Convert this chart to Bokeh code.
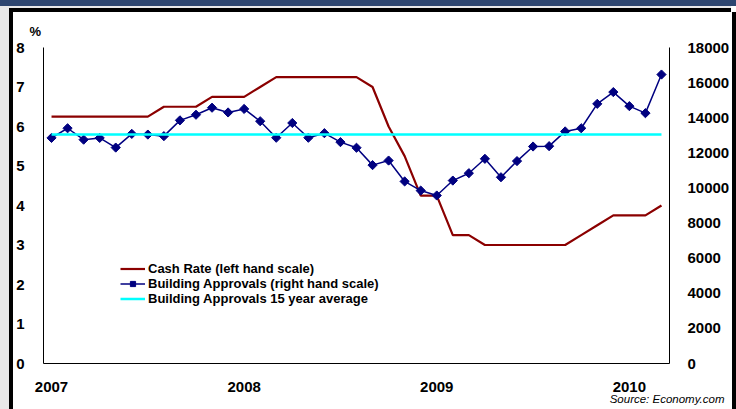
import math
from bokeh.plotting import figure
from bokeh.layouts import row, column
from bokeh.models import (LinearAxis, Range1d, Legend, LegendItem, Title, Div,
                          FixedTicker, ColumnDataSource)
from bokeh.embed import file_html
from bokeh.resources import INLINE

# ---- data -------------------------------------------------------------
months = [f"{m}-{y}" for y in ("07", "08", "09", "10")
          for m in ("Jan", "Feb", "Mar", "Apr", "May", "Jun", "Jul", "Aug",
                    "Sep", "Oct", "Nov", "Dec")][:39]
cash_rate = [6.25, 6.25, 6.25, 6.25, 6.25, 6.25, 6.25, 6.5, 6.5, 6.5,
             6.75, 6.75, 6.75, 7.0, 7.25, 7.25, 7.25, 7.25, 7.25, 7.25,
             7.0, 6.0, 5.25, 4.25, 4.25, 3.25, 3.25, 3.0, 3.0, 3.0,
             3.0, 3.0, 3.0, 3.25, 3.5, 3.75, 3.75, 3.75, 4.0]
approvals = [12850, 13400, 12750, 12850, 12300, 13080, 13040, 12950, 13850, 14170,
             14570, 14300, 14500, 13800, 12860, 13700, 12860, 13120, 12610, 12290,
             11300, 11560, 10370, 9850, 9570, 10420, 10840, 11660, 10610, 11530,
             12360, 12380, 13220, 13400, 14790, 15460, 14660, 14260, 16460]
avg_15yr = 13050
year_labels = ["2007", "2008", "2009", "2010"]
year_positions = [months.index(f"Jan-{y[2:]}") for y in year_labels]
left_ticks = [0, 1, 2, 3, 4, 5, 6, 7, 8]
right_ticks = [0, 2000, 4000, 6000, 8000, 10000, 12000, 14000, 16000, 18000]

idx = list(range(len(months)))
src = ColumnDataSource(dict(x=idx, month=months, cash=cash_rate,
                            bld=approvals, avg=[avg_15yr] * len(months)))

FONT = "Liberation Sans"
GRAY, NAVY, BLACK = "#e8e8e8", "#2e4670", "#000000"

p = figure(width=714, height=397, frame_width=626, frame_height=316,
           min_border_left=30, min_border_right=58,
           min_border_top=35, min_border_bottom=46,
           x_range=Range1d(-0.5, len(months) - 0.5), y_range=Range1d(0, 8),
           output_backend="svg", toolbar_location=None,
           border_fill_color="white", background_fill_color="white",
           outline_line_color=None)
p.extra_y_ranges = {"bld": Range1d(0, 18000)}
p.grid.visible = False

p.title = Title(text="%", align="left", offset=-14, standoff=17,
                text_font=FONT, text_font_style="bold", text_font_size="13px",
                text_color="black")

right = LinearAxis(y_range_name="bld", ticker=FixedTicker(ticks=right_ticks))
p.add_layout(right, "right")

p.yaxis[0].ticker = FixedTicker(ticks=left_ticks)
p.xaxis.ticker = FixedTicker(ticks=year_positions)
p.xaxis.major_label_overrides = {pos: lab for pos, lab in zip(year_positions, year_labels)}

for ax in p.axis:
    ax.axis_line_color = "black"
    ax.axis_line_width = 1
    ax.major_tick_line_color = None
    ax.minor_tick_line_color = None
    ax.major_label_text_font = FONT
    ax.major_label_text_font_style = "bold"
    ax.major_label_text_font_size = "15px"
    ax.major_label_text_color = "black"
p.yaxis[0].major_label_standoff = 13
right.major_label_standoff = 12
p.xaxis.major_label_standoff = 12

p.add_layout(Title(text="Source: Economy.com", align="right", offset=-55, standoff=-8,
                   text_font=FONT, text_font_style="italic", text_font_size="11.5px",
                   text_color="black"), "below")

r_cash = p.line("x", "cash", source=src, color="#8b0000", line_width=2.2)
r_bld = p.line("x", "bld", source=src, y_range_name="bld", color="#000080", line_width=1.5)
r_bld_m = p.scatter("x", "bld", source=src, y_range_name="bld", marker="square",
                    angle=math.pi / 4, size=6.5, color="#000080")
r_avg = p.line("x", "avg", source=src, y_range_name="bld", color="#00ffff", line_width=2.5)

legend = Legend(items=[
    LegendItem(label="Cash Rate (left hand scale)", renderers=[r_cash]),
    LegendItem(label="Building Approvals (right hand scale)", renderers=[r_bld, r_bld_m]),
    LegendItem(label="Building Approvals 15 year average", renderers=[r_avg]),
], location=(77, 57), background_fill_alpha=0, border_line_color=None,
    label_text_font=FONT, label_text_font_style="bold", label_text_font_size="13px",
    label_text_color="black",
    glyph_width=25, glyph_height=13, label_height=13, spacing=0, padding=0,
    margin=0, label_standoff=3)
p.add_layout(legend)


def block(w, h, color):
    return Div(text="", width=w, height=h, margin=0,
               styles={"background-color": color})


inner = column(block(722, 2, GRAY), block(722, 4, BLACK),
               row(block(4, 397, BLACK), p, block(4, 397, BLACK), spacing=0),
               spacing=0)
root = column(block(736, 6, NAVY),
              row(block(9, 403, GRAY), inner, block(5, 403, GRAY), spacing=0),
              spacing=0)

open("out.html", "w").write(file_html(root, INLINE))
